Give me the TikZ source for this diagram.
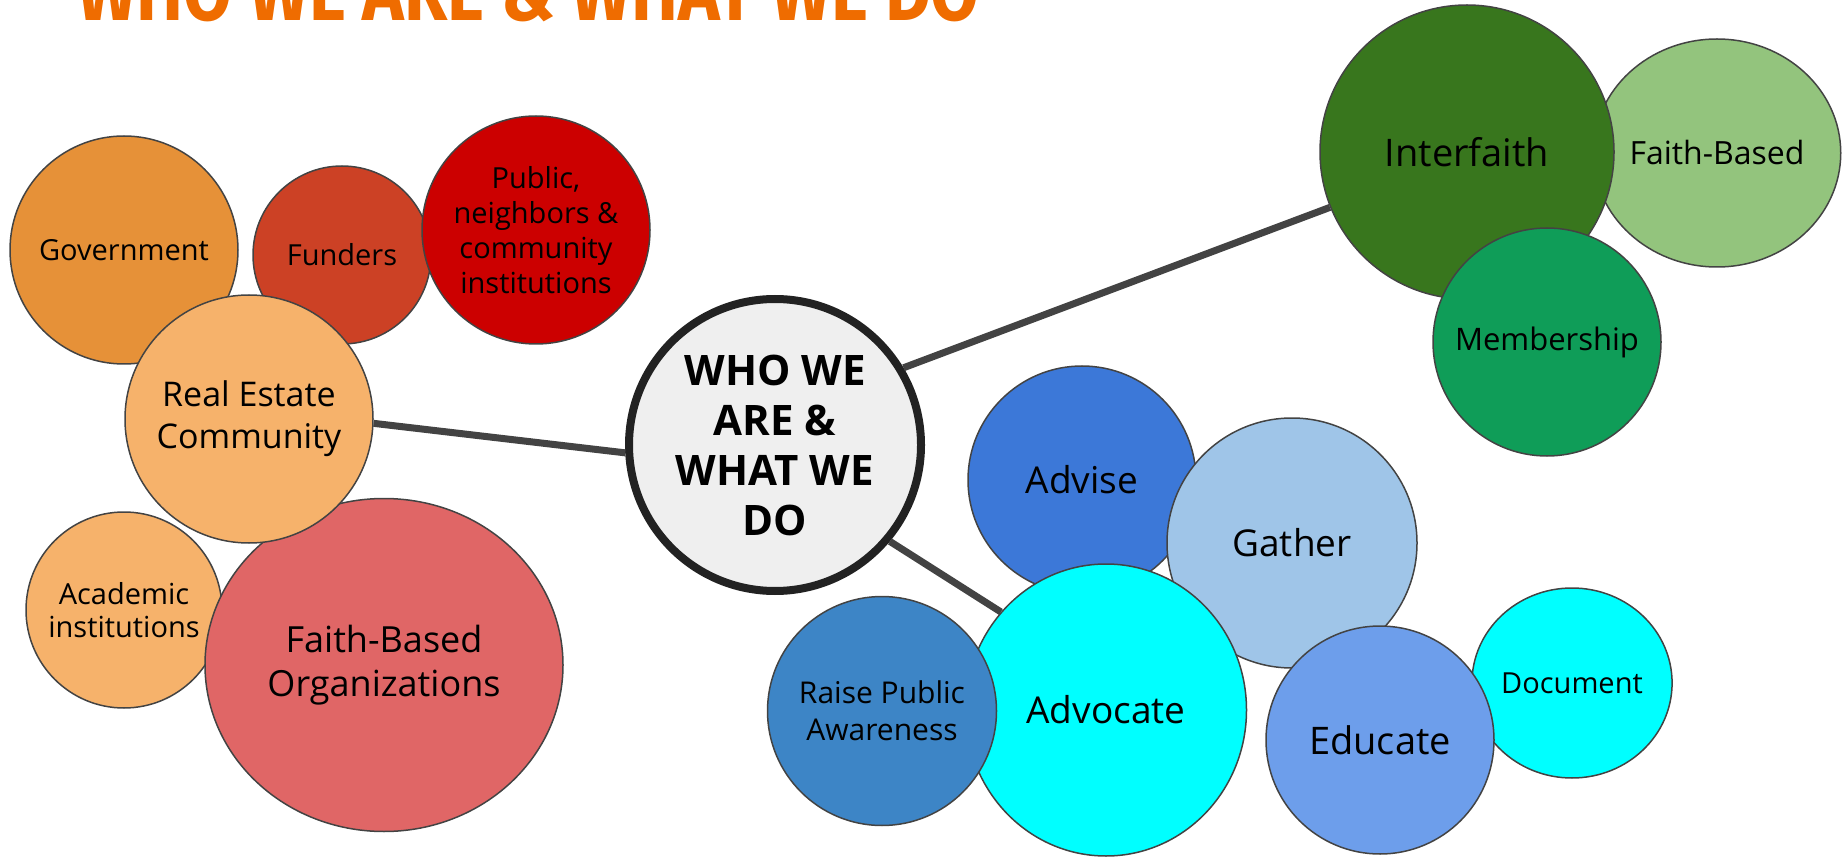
\documentclass[tikz,border=0pt]{standalone}
\usepackage{graphicx}
\usepackage{fontspec}
\setmainfont{Open Sans}
\newfontfamily\headfont{Fira Sans}
\usetikzlibrary{shapes.geometric}

\definecolor{titleorange}{HTML}{EF6C00}
\definecolor{rimgray}{HTML}{434343}
\definecolor{hubrim}{HTML}{222222}
\definecolor{hubgray}{HTML}{EFEFEF}
\definecolor{govorange}{HTML}{E69138}
\definecolor{funred}{HTML}{CC4125}
\definecolor{pubred}{HTML}{CC0000}
\definecolor{lightorange}{HTML}{F6B26B}
\definecolor{fbored}{HTML}{E06666}
\definecolor{darkgreen}{HTML}{38761D}
\definecolor{palegreen}{HTML}{93C47D}
\definecolor{midgreen}{HTML}{0F9D58}
\definecolor{adviseblue}{HTML}{3C78D8}
\definecolor{gatherblue}{HTML}{9FC5E8}
\definecolor{raiseblue}{HTML}{3D85C6}
\definecolor{educateblue}{HTML}{6D9EEB}
\definecolor{brightcyan}{HTML}{00FFFF}

\begin{document}
\begin{tikzpicture}[x=1pt, y=-1pt, line join=round,
    bubble/.style={circle, draw=rimgray, line width=1.5pt, inner sep=0pt, align=center},
    oval/.style={ellipse, draw=rimgray, line width=1.5pt, inner sep=0pt, align=center},
    txt/.style 2 args={font=\fontsize{#1}{#2}\selectfont},
    link/.style={draw=rimgray, line width=7pt}]
    \useasboundingbox (0, 0) rectangle (1847, 858);
    \clip (0, 0) rectangle (1847, 858);

    \node[anchor=base west, inner sep=0pt, text=titleorange] (title) at (77, 21)
        {\resizebox{902pt}{60pt}{\headfont\bfseries WHO WE ARE \& WHAT WE DO}};

    % Who we are
    \node[bubble, fill=govorange, minimum size=228pt, txt={29}{35}] (gov) at (124, 250) {Government};
    \node[bubble, fill=funred, minimum size=178pt, txt={29}{35}] (fund) at (342, 255) {Funders};
    \node[bubble, fill=pubred, minimum size=228pt, txt={29}{35}] (pub) at (536, 230) {Public,\\neighbors \&\\community\\institutions};
    \node[bubble, fill=lightorange, minimum size=196pt, txt={29}{33}] (acad) at (124, 610) {Academic\\institutions};
    \node[oval, fill=fbored, minimum width=358pt, minimum height=333pt, txt={36}{44}] (fbo) at (384, 665) {Faith-Based\\Organizations};
    \node[bubble, fill=lightorange, minimum size=248pt, txt={34}{42}] (re) at (249, 419) {Real Estate\\Community};

    % Hub
    \node[bubble, draw=hubrim, line width=8pt, fill=hubgray, minimum size=292pt,
        font=\bfseries\fontsize{42}{50}\selectfont] (hub) at (775, 445) {WHO WE\\ARE \&\\WHAT WE\\DO};

    % Interfaith
    \node[oval, fill=palegreen, minimum width=232pt, minimum height=228pt, txt={32}{38}] (fb) at (1717, 153) {Faith-Based};
    \node[bubble, fill=darkgreen, minimum size=294pt, txt={38}{46}] (inter) at (1467, 152) {Interfaith};
    \node[bubble, fill=midgreen, minimum size=228pt, txt={31}{37}] (memb) at (1547, 342) {Membership};

    % What we do
    \node[bubble, fill=adviseblue, minimum size=228pt, txt={37}{44}] (advise) at (1082, 480) {Advise};
    \node[bubble, fill=gatherblue, minimum size=250pt, txt={37}{44}] (gather) at (1292, 543) {Gather};
    \node[oval, fill=brightcyan, minimum width=281pt, minimum height=292pt, txt={37}{44}] (advocate) at (1106, 710) {Advocate};
    \node[bubble, fill=raiseblue, minimum size=229pt, txt={30}{37}] (raise) at (882, 711) {Raise Public\\Awareness};
    \node[oval, fill=brightcyan, minimum width=198pt, minimum height=190pt, txt={29}{35}] (doc) at (1572, 683) {Document};
    \node[bubble, fill=educateblue, minimum size=228pt, txt={38}{46}] (educate) at (1380, 740) {Educate};

    % Links
    \draw[link] (re.-2) -- (hub.183);
    \draw[link] (hub.31) -- (inter.202);
    \draw[link] (hub.-40) -- (advocate.137);
\end{tikzpicture}
\end{document}
